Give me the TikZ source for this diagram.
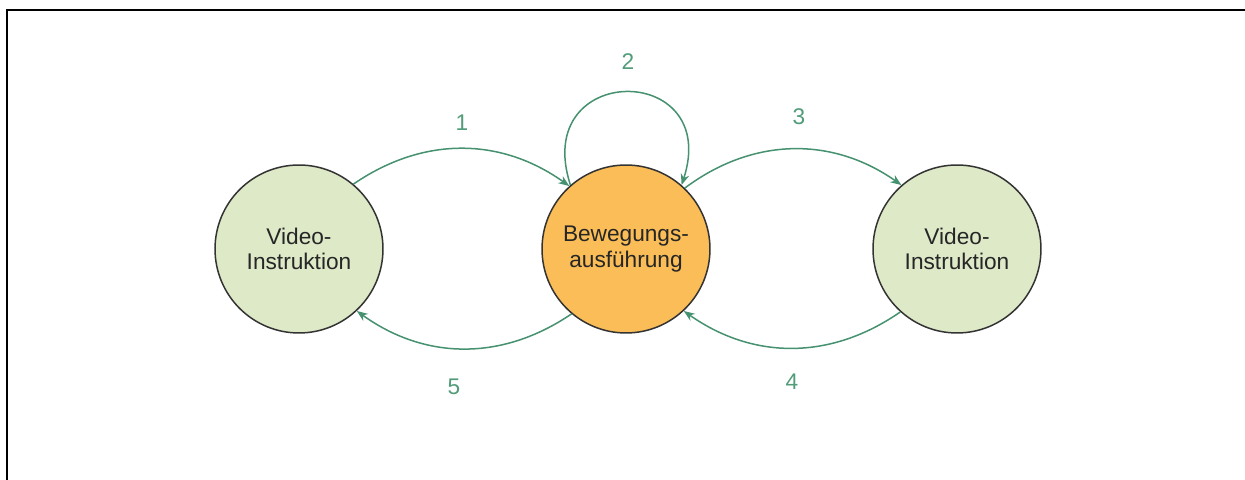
\documentclass[tikz,border=0pt]{standalone}
\usepackage{fontspec}
\setmainfont{Liberation Sans}
\usepackage{xcolor}
\usetikzlibrary{positioning}
\usetikzlibrary{arrows.meta, shapes}
\definecolor{vidgreen}{RGB}{222,233,200}
\definecolor{moveorange}{RGB}{250,189,87}
\definecolor{edgegreen}{RGB}{70,145,112}
\definecolor{numgreen}{RGB}{82,156,122}
\tikzstyle{state} = [circle, minimum size=3.36cm, inner sep=0pt, draw=black!80, line width=0.03cm, align=center, text=black!85, font=\fontsize{12.9}{14.5}\selectfont]
\tikzstyle{arrow} = [draw=edgegreen, line width=0.03cm, -{Stealth[length=0.22cm,width=0.17cm]}]
\tikzstyle{num} = [text=numgreen, font=\fontsize{12.9}{14.5}\selectfont]

\begin{document}
\begin{tikzpicture}[x=0.02cm,y=0.02cm]
      \fill[white] (0,0) rectangle (1245,480);
      \useasboundingbox (0,0) rectangle (1245,480);
      \draw[line width=0.04cm] (1260,470) -- (7,470) -- (7,-10);
      %%%%%%%%%%%%%%%%%%%%%%%%%%%%%%%%%%%%%%%
      \node (vl) at (299,231) [state, fill=vidgreen] {Video-\\Instruktion};
      \node (mid) at (626,231) [state, fill=moveorange] {Bewegungs-\\ausführung};
      \node (vr) at (957,231) [state, fill=vidgreen] {Video-\\Instruktion};
      %%%%%%%%%%%%%%%%%%%%%%%%%%%%%%%%%%%%%%%
      \node (l1) at (462,357) [num] {1};
      \node (l2) at (628,418) [num] {2};
      \node (l3) at (799,363) [num] {3};
      \node (l4) at (792,98) [num] {4};
      \node (l5) at (454,93) [num] {5};
      %%%%%%%%%%%%%%%%%%%%%%%%%%%%%%%%%%%%%%%
      \draw[arrow] (vl.50) to[bend left=35] (mid.132);
      \draw[arrow] (mid.131) to[out=108,in=72,looseness=3] (mid.49);
      \draw[arrow] (mid.46) to[bend left=36] (vr.131);
      \draw[arrow] (vr.228) to[bend left=35] (mid.313);
      \draw[arrow] (mid.230) to[bend left=35] (vl.313);
\end{tikzpicture}
\end{document}
